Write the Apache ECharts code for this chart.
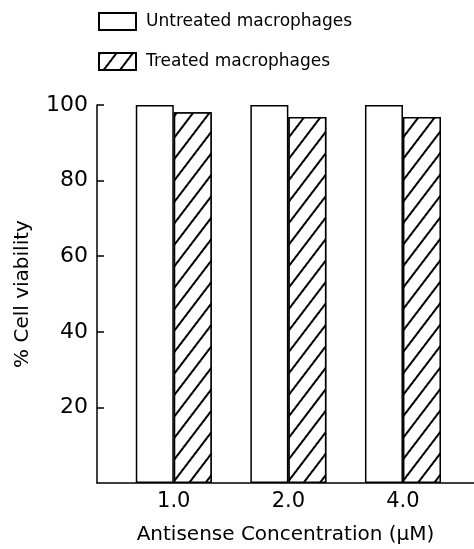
<!DOCTYPE html>
<html>
<head>
<meta charset="utf-8">
<script src="https://cdn.jsdelivr.net/npm/echarts@6/dist/echarts.min.js"></script>
<style>html,body{margin:0;padding:0;background:#fff}#c{width:474px;height:549px}</style>
</head>
<body>
<div id="c"></div>
<script>
var categories = ['1.0', '2.0', '4.0'];
var untreated = [100, 100, 100];
var treated = [98.1, 96.8, 96.8];
var yTicks = [20, 40, 60, 80, 100];

var FONT = 'DejaVu Sans';
var chart = echarts.init(document.getElementById('c'));
function pts(vals) { return vals.map(function (v, i) { return [i + 1, v]; }); }

chart.setOption({
  animation: false,
  backgroundColor: '#fff',
  textStyle: { fontFamily: FONT, color: '#000' },
  legend: {
    orient: 'vertical', left: 98, top: 12, padding: 0,
    itemWidth: 37, itemHeight: 17, itemGap: 21, icon: 'rect',
    textStyle: { fontFamily: FONT, fontSize: 17, color: '#000', padding: [0, 0, 0, 5] },
    data: ['Untreated macrophages', 'Treated macrophages']
  },
  grid: { left: 97, right: 0, top: 105, bottom: 66, containLabel: false, outerBoundsMode: 'none' },
  xAxis: {
    type: 'value', min: 0.33, max: 3.62,
    name: 'Antisense Concentration (\u03bcM)', nameLocation: 'middle', nameGap: 42,
    nameTextStyle: { fontFamily: FONT, fontSize: 20, color: '#000' },
    axisLine: { show: true, lineStyle: { color: '#000', width: 1.5 } },
    axisTick: { show: false },
    splitLine: { show: false },
    axisLabel: {
      customValues: [1, 2, 3], margin: 8,
      fontFamily: FONT, fontSize: 21, color: '#000',
      formatter: function (v) { return categories[Math.round(v) - 1] || ''; }
    }
  },
  yAxis: {
    type: 'value', min: 0, max: 100, interval: 20,
    name: '% Cell viability', nameLocation: 'middle', nameGap: 64,
    nameTextStyle: { fontFamily: FONT, fontSize: 20, color: '#000' },
    axisLine: { show: true, lineStyle: { color: '#000', width: 1.5 } },
    axisTick: { show: true, inside: true, length: 7, customValues: yTicks, lineStyle: { color: '#000', width: 1.5 } },
    splitLine: { show: false },
    axisLabel: {
      margin: 9, fontFamily: FONT, fontSize: 22, color: '#000',
      customValues: yTicks
    }
  },
  series: [
    {
      name: 'Untreated macrophages', type: 'bar', data: pts(untreated),
      barWidth: 38, barGap: '0%',
      itemStyle: { color: '#fff', borderColor: '#000', borderWidth: 1.5 }
    },
    {
      name: 'Treated macrophages', type: 'bar', data: pts(treated),
      barWidth: 38, barGap: '0%',
      itemStyle: {
        color: '#fff', borderColor: '#000', borderWidth: 1.5,
        decal: { symbol: 'rect', color: '#000', backgroundColor: '#fff', dashArrayX: [1, 0], dashArrayY: [1.2, 10.5], rotation: -0.92 }
      }
    }
  ]
});
</script>
</body>
</html>
